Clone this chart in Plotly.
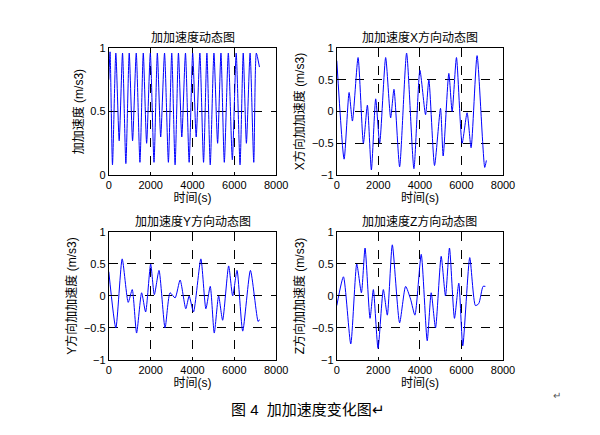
import plotly.graph_objects as go

# jerk magnitude: trough times / values, peaks in between
trough_t = [176, 496, 816, 1136, 1488, 1808, 2160, 2480, 2848, 3168, 3488,
            3840, 4176, 4528, 4848, 5200, 5520, 5904, 6272, 6576, 6928]
trough_v = [0.08, 0.27, 0.09, 0.27, 0.1, 0.25, 0.1, 0.3, 0.1, 0.08, 0.3,
            0.1, 0.3, 0.1, 0.08, 0.25, 0.1, 0.12, 0.08, 0.25, 0.1]
peak_v = 0.96

# X component: (zoom px, value)
x_px = [808, 830, 845, 855, 872, 888, 900, 912, 925, 937, 955, 970, 980, 997, 1018,
        1040, 1058, 1075, 1085, 1102, 1120, 1128, 1145, 1155, 1168, 1185, 1200,
        1212, 1230, 1253, 1258]
x_v = [0.8, -0.75, 0.3, -0.15, 0.85, -0.5, 0.1, -0.92, 0.2, -0.5, 0.85, -0.1, 0.35,
       -0.87, 0.92, -0.9, 0.65, -0.05, 0.5, -0.85, 0.05, -0.7, 0.6, 0.0, 0.85, -0.5,
       -0.02, -0.57, 0.88, -0.88, -0.77]

# Y component
y_px = [122, 143, 162, 180, 192, 205, 220, 232, 247, 258, 272, 290, 305, 320, 335,
        352, 362, 375, 397, 412, 425, 437, 450, 462, 480, 492, 505, 522, 545, 568, 572]
y_v = [0.38, -0.5, 0.58, -0.1, 0.1, -0.58, 0.05, -0.25, 0.5, 0.02, 0.4, -0.5, 0.05,
       -0.03, 0.25, -0.2, 0.0, -0.25, 0.58, -0.2, 0.15, -0.58, 0.0, -0.38, 0.47, 0.0,
       0.4, -0.55, 0.4, -0.4, -0.37]

# Z component
z_px = [808, 828, 850, 868, 882, 893, 908, 918, 932, 948, 960, 975, 997, 1015, 1030,
        1043, 1062, 1080, 1092, 1105, 1122, 1135, 1147, 1162, 1175, 1187, 1208, 1225,
        1235, 1248, 1255]
z_v = [-0.15, 0.3, -0.75, 0.5, 0.05, 0.75, -0.35, 0.1, -0.82, 0.1, -0.3, 0.8, -0.42,
       0.15, -0.05, -0.3, 0.65, -0.7, 0.05, -0.5, 0.62, 0.0, 0.75, -0.35, 0.2, -0.78,
       0.6, -0.15, -0.12, 0.15, 0.15]

titles = ["加加速度动态图", "加加速度X方向动态图", "加加速度Y方向动态图", "加加速度Z方向动态图"]
ylabels = ["加加速度 (m/s3)", "X方向加加速度 (m/s3)", "Y方向加加速度 (m/s3)", "Z方向加加速度 (m/s3)"]

# build magnitude series
mt, mv = [0, 60], [0.75, 0.97]
prev = 60
for t, v in zip(trough_t, trough_v):
    if mt[-1] != 60:
        mt.append((prev + t) / 2); mv.append(peak_v)
    mt.append(t); mv.append(v)
    prev = t
mt += [7050, 7200]; mv += [peak_v, 0.85]

def to_t(px, x0):
    return [(p - x0) * 16.0 for p in px]

series = [(mt, mv), (to_t(x_px, 808), x_v), (to_t(y_px, 122), y_v), (to_t(z_px, 808), z_v)]

FONT = "Liberation Sans, Noto Sans CJK SC"
fig = go.Figure()
xd = [[0.168, 0.447], [0.548, 0.825]]
yd = [[0.616, 0.908], [0.191, 0.485]]
for i, (t, v) in enumerate(series):
    n = i + 1
    sfx = "" if n == 1 else str(n)
    fig.add_trace(go.Scatter(x=t, y=v, mode="lines", line=dict(color="blue", width=1, shape="spline", smoothing=0.6),
                             xaxis="x" + sfx, yaxis="y" + sfx, showlegend=False))
    col, row = i % 2, i // 2
    grid = dict(showgrid=True, gridcolor="black", griddash="dash", gridwidth=1, automargin=False,
                showline=True, linecolor="black", linewidth=1, mirror=True, zeroline=False,
                ticks="inside", ticklen=3, tickcolor="black", tickfont=dict(size=11, color="black"))
    fig.layout["xaxis" + sfx] = dict(domain=xd[col], anchor="y" + sfx, range=[0, 8000], dtick=2000,
                                     title=dict(text="时间(s)", font=dict(size=12), standoff=2), **grid)
    if i == 0:
        yr, ytv = [0, 1], [0, 0.5, 1]
    else:
        yr, ytv = [-1, 1], [-1, -0.5, 0, 0.5, 1]
    fig.layout["yaxis" + sfx] = dict(domain=yd[row], anchor="x" + sfx, range=yr, tickvals=ytv,
                                     title=dict(text=ylabels[i], font=dict(size=12), standoff=4), **grid)
    fig.add_annotation(text=titles[i], xref="paper", yref="paper", x=sum(xd[col]) / 2,
                       xanchor="center", y=yd[row][1], yanchor="bottom", showarrow=False,
                       yshift=1, font=dict(size=12))

fig.add_annotation(text="图 4  加加速度变化图↵", xref="paper", yref="paper", x=0.5, y=0.052,
                   xanchor="center", showarrow=False, font=dict(size=15))
fig.add_annotation(text="↵", xref="paper", yref="paper", x=0.925, y=0.092,
                   showarrow=False, font=dict(size=10, color="#555"))

fig.update_layout(width=600, height=435, margin=dict(l=0, r=0, t=0, b=0),
                  paper_bgcolor="white", plot_bgcolor="white",
                  font=dict(family=FONT, color="black"))
fig.write_html("out.html")
